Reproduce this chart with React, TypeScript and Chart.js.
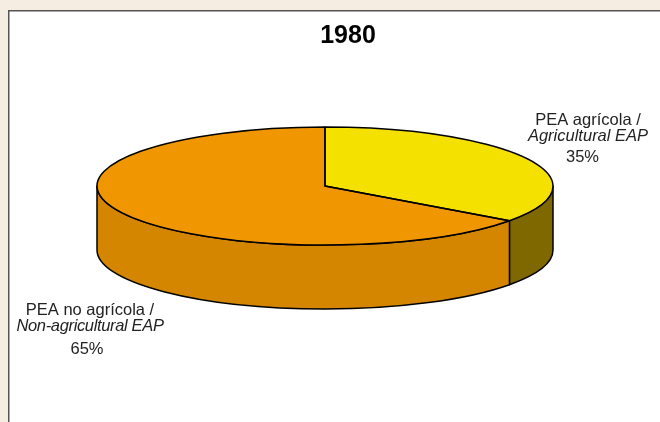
import React, { useEffect, useRef } from "react";
import { Chart, registerables } from "chart.js";

Chart.register(...registerables);

const chartTitle = "1980";
const categories = ["PEA agrícola /", "PEA no agrícola /"];
const categoriesItalic = ["Agricultural EAP", "Non-agricultural EAP"];
const values = [35, 65];
const topColors = ["#f5e100", "#f09600"];
const sideColors = ["#806800", "#d48600"];

const W = 660;
const H = 422;
const RX = 228;
const RY = 59;
const DEPTH = 64;
const CX = 325;
const CY = 186;
const FONT = '"Liberation Sans", Arial, sans-serif';

// [x of lines, x of percent, y of line 1, y of line 2, y of percent, italic spacing]
const labelAnchors = [
  [588, 582.5, 125, 141, 161.5, 0],
  [90, 87, 315, 331, 354, -0.35],
];

const frame3d = {
  id: "frame3d",
  beforeDraw(chart: any) {
    const { ctx } = chart;
    ctx.save();
    ctx.fillStyle = "#f5ece2";
    ctx.fillRect(0, 0, W, H);
    ctx.fillStyle = "#ffffff";
    ctx.fillRect(9, 11, W - 9, H - 11);
    ctx.strokeStyle = "#555555";
    ctx.lineWidth = 1.5;
    ctx.beginPath();
    ctx.moveTo(8.75, H);
    ctx.lineTo(8.75, 10.75);
    ctx.lineTo(W, 10.75);
    ctx.stroke();
    ctx.restore();
  },
  beforeDatasetsDraw(chart: any) {
    const { ctx } = chart;
    const arcs = chart.getDatasetMeta(0).data;
    ctx.save();
    ctx.lineWidth = 1.5;
    ctx.strokeStyle = "#000000";
    ctx.lineJoin = "round";
    arcs.forEach((arc: any, i: number) => {
      const a = Math.max(arc.startAngle, 0);
      const b = Math.min(arc.endAngle, Math.PI);
      if (b <= a) return;
      ctx.beginPath();
      ctx.ellipse(arc.x, arc.y, RX, RY, 0, a, b, false);
      ctx.ellipse(arc.x, arc.y + DEPTH, RX, RY, 0, b, a, true);
      ctx.closePath();
      ctx.fillStyle = sideColors[i];
      ctx.fill();
      ctx.stroke();
    });
    ctx.restore();
    // squash the pie into an ellipse for the library's own arcs
    ctx.save();
    ctx.translate(CX, CY);
    ctx.scale(1, RY / RX);
    ctx.translate(-CX, -CY);
  },
  afterDatasetsDraw(chart: any) {
    const { ctx } = chart;
    ctx.restore();
    const arcs = chart.getDatasetMeta(0).data;
    ctx.save();
    ctx.lineWidth = 1.5;
    ctx.strokeStyle = "#000000";
    ctx.lineJoin = "round";
    arcs.forEach((arc: any) => {
      ctx.beginPath();
      ctx.moveTo(arc.x, arc.y);
      ctx.ellipse(arc.x, arc.y, RX, RY, 0, arc.startAngle, arc.endAngle, false);
      ctx.closePath();
      ctx.stroke();
    });
    ctx.restore();
  },
  afterDraw(chart: any) {
    const { ctx } = chart;
    ctx.save();
    ctx.textAlign = "center";
    ctx.textBaseline = "alphabetic";
    ctx.fillStyle = "#000000";
    ctx.font = `bold 25px ${FONT}`;
    ctx.fillText(chartTitle, 348, 42.5);
    ctx.fillStyle = "#222222";
    categories.forEach((c, i) => {
      const [x, xp, y1, y2, y3, sp] = labelAnchors[i];
      ctx.font = `16.5px ${FONT}`;
      ctx.letterSpacing = "0px";
      ctx.fillText(c, x, y1);
      ctx.font = `italic 16.5px ${FONT}`;
      ctx.letterSpacing = `${sp}px`;
      ctx.fillText(categoriesItalic[i], x, y2);
      ctx.letterSpacing = "0px";
      ctx.font = `16.5px ${FONT}`;
      ctx.fillText(`${values[i]}%`, xp, y3);
    });
    ctx.restore();
  },
};

export default function App() {
  const ref = useRef<HTMLCanvasElement>(null);
  useEffect(() => {
    document.body.style.margin = "0";
    document.body.style.background = "#f5ece2";
    document.body.style.overflow = "hidden";
    const chart = new Chart(ref.current!, {
      type: "pie",
      data: {
        labels: categories,
        datasets: [
          {
            data: values,
            backgroundColor: topColors,
            borderWidth: 0,
            radius: RX,
          } as any,
        ],
      },
      options: {
        responsive: false,
        animation: false,
        layout: {
          padding: { left: 0, right: W - 2 * CX, top: 0, bottom: H - 2 * CY },
        },
        plugins: {
          legend: { display: false },
          tooltip: { enabled: false },
        },
      },
      plugins: [frame3d],
    });
    return () => chart.destroy();
  }, []);
  return (
    <canvas
      ref={ref}
      width={W}
      height={H}
      style={{ display: "block", width: W, height: H }}
    />
  );
}
